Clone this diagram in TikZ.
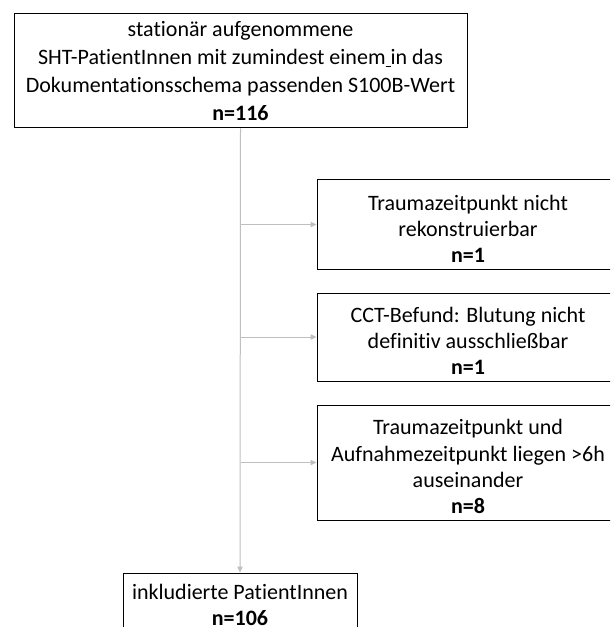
\documentclass[tikz,border=0pt]{standalone}
\usepackage{fontspec}
\setmainfont[Ligatures=NoCommon]{Carlito}
\usetikzlibrary{arrows.meta}
\newcommand\mystrut[1]{\rule{0pt}{#1}}
\begin{document}
\begin{tikzpicture}[x=0.75pt,y=-0.75pt,
  box/.style={draw=black,line width=0.75pt,align=center,inner sep=0pt,
    font={\fontsize{16.5pt}{19.6pt}\selectfont}},
  conn/.style={draw={rgb,255:red,191;green,191;blue,191},line width=0.75pt,
    -{Triangle[length=4.5pt,width=4pt]}}]
\fill[white] (0,0) rectangle (610,627);
\path[use as bounding box,clip] (0,0) rectangle (610,627);
\node[box,font={\fontsize{16.5pt}{20.8pt}\selectfont},minimum width=339.75pt,minimum height=85.5pt] (top) at (240.5,71)
  {stationär aufgenommene\\SHT-PatientInnen mit zumindest einem\underline{\ }in das\\Dokumentationsschema passenden S100B-Wert\\\textbf{n=116}};
\node[box,minimum width=226.5pt,minimum height=66.75pt] (b1) at (468,224.5)
  {\mystrut{17.6pt}Traumazeitpunkt nicht\\rekonstruierbar\\\textbf{n=1}};
\node[box,minimum width=226.5pt,minimum height=66pt] (b2) at (468,337)
  {\mystrut{17.6pt}CCT-Befund: Blutung nicht\\definitiv ausschließbar\\\textbf{n=1}};
\node[box,minimum width=226.5pt,minimum height=86.25pt] (b3) at (468,462.5)
  {\mystrut{17.6pt}Traumazeitpunkt und\\Aufnahmezeitpunkt liegen >6h\\auseinander\\\textbf{n=8}};
\node[box,minimum width=175.5pt,minimum height=44.6pt] (bot) at (240,602.75)
  {\mystrut{14.6pt}inkludierte PatientInnen\\\textbf{n=106}};
\draw[conn] (top.south) -- (bot.north);
\draw[conn] (top.south |- b1.west) -- (b1.west);
\draw[conn] (top.south |- b2.west) -- (b2.west);
\draw[conn] (top.south |- b3.west) -- (b3.west);
\end{tikzpicture}
\end{document}
